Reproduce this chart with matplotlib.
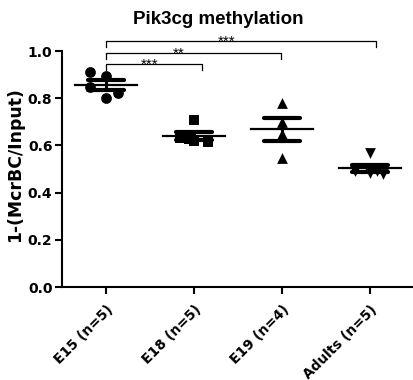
import matplotlib
matplotlib.use("Agg")
import matplotlib.pyplot as plt
import numpy as np

plt.rcParams['font.family'] = ['Liberation Sans', 'DejaVu Sans']

categories = ["E15 (n=5)", "E18 (n=5)", "E19 (n=4)", "Adults (n=5)"]
values = [
    [0.912, 0.894, 0.846, 0.823, 0.800],
    [0.708, 0.630, 0.620, 0.615, 0.628],
    [0.778, 0.700, 0.650, 0.546],
    [0.566, 0.490, 0.485, 0.480, 0.492],
]
jitter = [
    [-0.18, 0.0, -0.18, 0.14, 0.0],
    [0.0, -0.16, 0.0, 0.16, -0.06],
    [0.0, 0.0, 0.0, 0.0],
    [0.0, -0.17, 0.0, 0.15, 0.08],
]
markers = ['o', 's', '^', 'v']
comparisons = [(0, 1, "***"), (0, 2, "**"), (0, 3, "***")]
yticks = [0.0, 0.2, 0.4, 0.6, 0.8, 1.0]

wide = 'DejaVu Sans'

fig = plt.figure(figsize=(4.14, 3.80), dpi=100)
ax = fig.add_axes([0.150, 0.2447, 0.850, 0.621])

for i, (vals, jit, m) in enumerate(zip(values, jitter, markers)):
    v = np.array(vals)
    x = i + np.array(jit)
    ax.scatter(x, v, marker=m, s=60, color='black', zorder=3, linewidths=0)
    mean = v.mean()
    sem = v.std(ddof=1) / np.sqrt(len(v))
    ax.plot([i - 0.35, i + 0.35], [mean, mean], color='black', lw=1.6, zorder=4)
    ax.plot([i, i], [mean - sem, mean + sem], color='black', lw=2.2, zorder=4)
    for yy in (mean - sem, mean + sem):
        ax.plot([i - 0.2, i + 0.2], [yy, yy], color='black', lw=3.0,
                solid_capstyle='round', zorder=4)

ax.set_xlim(-0.5, 3.5)
ax.set_ylim(0, 1.0)
ax.set_yticks(yticks)
ax.set_yticklabels([f"{t:.1f}" for t in yticks], fontweight='bold', fontsize=10,
                   family=wide)
ax.set_xticks(range(len(categories)))
ax.set_xticklabels(categories, rotation=45, ha='right', rotation_mode='anchor',
                   fontweight='bold', fontsize=9.9, family=wide)
ax.spines['top'].set_visible(False)
ax.spines['right'].set_visible(False)
ax.spines['left'].set_linewidth(1.5)
ax.spines['bottom'].set_linewidth(1.5)
ax.tick_params(axis='both', width=1.5, length=5, direction='out')
ax.tick_params(axis='x', pad=6)
ax.tick_params(axis='y', pad=2)

fig.text(15 / 414, 1 - 165 / 380, "1-(McrBC/Input)", rotation=90, ha='center',
         va='center', fontweight='bold', fontsize=12.4, family=wide)
fig.text(218.5 / 414, 1 - 24 / 380, "Pik3cg methylation", ha='center',
         va='baseline', fontweight='bold', fontsize=13.5)

bracket_y = [0.944, 0.99, 1.042]
right_end = [1.09, 1.99, 3.07]
star_x = [0.50, 0.82, 1.375]
drop = 0.025
for (a, b, s), y, r, sx in zip(comparisons, bracket_y, right_end, star_x):
    ax.plot([a, a, r, r], [y - drop, y, y, y - drop], color='black', lw=0.9,
            clip_on=False)
    ax.text(sx, y - 0.02, s, ha='center', va='baseline', fontsize=11,
            clip_on=False)

fig.savefig("out.png", dpi=100)
